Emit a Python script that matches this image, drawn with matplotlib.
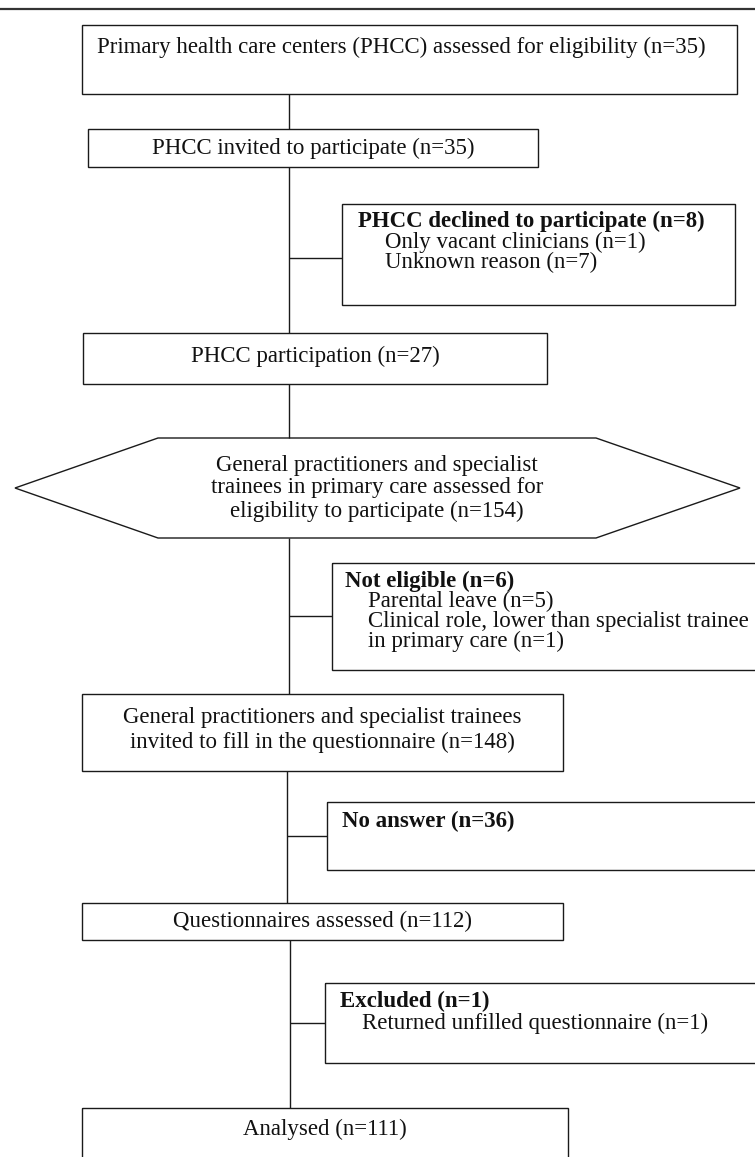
import matplotlib
matplotlib.use('Agg')
import matplotlib.pyplot as plt
from matplotlib.patches import Rectangle, Polygon

plt.rcParams['font.family'] = ['Liberation Serif', 'DejaVu Serif']

# ---------------- data (texts of the flow chart) ----------------
main_labels = [
    ["Primary health care centers (PHCC) assessed for eligibility (n=35)"],
    ["PHCC invited to participate (n=35)"],
    ["PHCC participation (n=27)"],
    ["General practitioners and specialist",
     "trainees in primary care assessed for",
     "eligibility to participate (n=154)"],
    ["General practitioners and specialist trainees",
     "invited to fill in the questionnaire (n=148)"],
    ["Questionnaires assessed (n=112)"],
    ["Analysed (n=111)"],
]
side_titles = ["PHCC declined to participate (n=8)", "Not eligible (n=6)",
               "No answer (n=36)", "Excluded (n=1)"]
side_items = [
    ["Only vacant clinicians (n=1)", "Unknown reason (n=7)"],
    ["Parental leave (n=5)", "Clinical role, lower than specialist trainee",
     "in primary care (n=1)"],
    [],
    ["Returned unfilled questionnaire (n=1)"],
]

# ---------------- layout (pixel units) ----------------
W, H = 755, 1157
FS = 16.5
LC = '#1a1a1a'
LW = 1.0

fig = plt.figure(figsize=(W / 100, H / 100), dpi=100)
ax = fig.add_axes([0, 0, 1, 1])
ax.set_xlim(0, W)
ax.set_ylim(H, 0)
ax.axis('off')

# top rule
ax.plot([0, W], [9, 9], color='#333333', lw=1.6, solid_capstyle='butt')


def box(x0, x1, y0, y1):
    ax.add_patch(Rectangle((x0, y0), x1 - x0, y1 - y0, fill=False,
                           edgecolor=LC, lw=LW))


def vline(x, y0, y1):
    ax.plot([x, x], [y0, y1], color=LC, lw=LW, solid_capstyle='butt')


def hline(y, x0, x1):
    ax.plot([x0, x1], [y, y], color=LC, lw=LW, solid_capstyle='butt')


def txt(x, y, s, ha='center', bold=False):
    ax.text(x, y, s, ha=ha, va='center', fontsize=FS,
            fontweight='bold' if bold else 'normal', color='#111111')


# main boxes: (x0, x1, y0, y1, text line ys, align)
main_geom = [
    (82, 737, 25, 94, [47], 'left'),
    (88, 538, 129, 167, [148], 'center'),
    (83, 547, 333, 384, [356], 'center'),
    None,  # hexagon
    (82, 563, 694, 771, [717, 742], 'center'),
    (82, 563, 903, 940, [921], 'center'),
    (82, 568, 1108, 1175, [1129], 'center'),
]

for lines, g in zip(main_labels, main_geom):
    if g is None:
        continue
    x0, x1, y0, y1, ys, al = g
    box(x0, x1, y0, y1)
    for s, y in zip(lines, ys):
        if al == 'left':
            txt(x0 + 15, y, s, ha='left')
        else:
            txt((x0 + x1) / 2, y, s)

# hexagon
hx = [15, 158, 596, 740, 596, 158]
hy = [488, 438, 438, 488, 538, 538]
ax.add_patch(Polygon(list(zip(hx, hy)), closed=True, fill=False,
                     edgecolor=LC, lw=LW))
for s, y in zip(main_labels[3], [465, 488, 511]):
    txt(377, y, s)

# trunk
vline(289, 94, 129)
vline(289, 167, 333)
vline(289, 384, 438)
vline(289, 538, 694)
vline(287, 771, 903)
vline(290, 940, 1108)

# side boxes: (x0, x1, y0, y1, branch_y, trunk_x, title_x, item_x, title_y, item_ys)
side_geom = [
    (342, 735, 204, 305, 258, 289, 358, 385, 221, [242, 262]),
    (332, 770, 563, 670, 616, 289, 345, 368, 581, [601, 621, 641]),
    (327, 770, 802, 870, 836, 287, 342, 365, 821, []),
    (325, 770, 983, 1063, 1023, 290, 340, 362, 1001, [1023]),
]
for t, items, g in zip(side_titles, side_items, side_geom):
    x0, x1, y0, y1, by, tx, ttx, itx, ty, iys = g
    box(x0, x1, y0, y1)
    hline(by, tx, x0)
    txt(ttx, ty, t, ha='left', bold=True)
    for s, y in zip(items, iys):
        txt(itx, y, s, ha='left')

fig.savefig('out.png', dpi=100)
